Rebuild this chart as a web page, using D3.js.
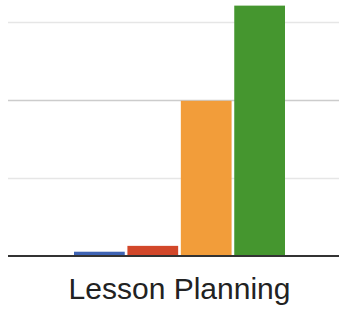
<!DOCTYPE html>
<html><head><meta charset="utf-8">
<script src="https://cdn.jsdelivr.net/npm/d3@7"></script>
<style>html,body{margin:0;padding:0;background:#fff;overflow:hidden}</style>
</head><body>
<svg id="chart" width="339" height="310"></svg>
<script>
const categories = ["Lesson Planning"];
const series = ["A", "B", "C", "D"];
const values = [[0.55, 1.3, 19.9, 32.1]];
const colors = ["#3f64b4", "#d2472a", "#f29d3a", "#45962f"];
const minorTicks = [10, 30];
const majorTicks = [20];

const svg = d3.select("#chart");
const left = 8, right = 339, base = 256;

const y = d3.scaleLinear().domain([0, 40]).range([base, base - 312]);
const x0 = d3.scaleBand().domain(categories).range([74, 285]).paddingInner(0).paddingOuter(0);
const x1 = d3.scaleBand().domain(series).range([0, x0.bandwidth()]).paddingInner(0.05).paddingOuter(0);

svg.selectAll("line.minor").data(minorTicks).enter().append("line")
  .attr("x1", left).attr("x2", right)
  .attr("y1", d => y(d) + 0.5).attr("y2", d => y(d) + 0.5)
  .attr("stroke", "#e6e6e6").attr("stroke-width", 1.5);
svg.selectAll("line.major").data(majorTicks).enter().append("line")
  .attr("x1", left).attr("x2", right)
  .attr("y1", d => y(d) + 0.5).attr("y2", d => y(d) + 0.5)
  .attr("stroke", "#cccccc").attr("stroke-width", 1.5);

const g = svg.selectAll("g.cat").data(categories).enter().append("g")
  .attr("transform", d => `translate(${x0(d)},0)`);
g.each(function(c, ci) {
  d3.select(this).selectAll("rect").data(series).enter().append("rect")
    .attr("x", s => x1(s))
    .attr("width", x1.bandwidth())
    .attr("y", (s, i) => y(values[ci][i]))
    .attr("height", (s, i) => base - y(values[ci][i]))
    .attr("fill", (s, i) => colors[i]);
});

svg.append("line").attr("x1", left).attr("x2", right)
  .attr("y1", base).attr("y2", base)
  .attr("stroke", "#333").attr("stroke-width", 2);

const xAxis = d3.axisBottom(x0).tickSize(0).tickPadding(0);
const ax = svg.append("g").attr("transform", `translate(0,${base})`).call(xAxis);
ax.select(".domain").remove();
ax.selectAll("text")
  .attr("y", 43).attr("dy", 0)
  .attr("font-family", "Liberation Sans, Arial, sans-serif")
  .attr("font-size", 30).attr("fill", "#222");
</script>
</body></html>
